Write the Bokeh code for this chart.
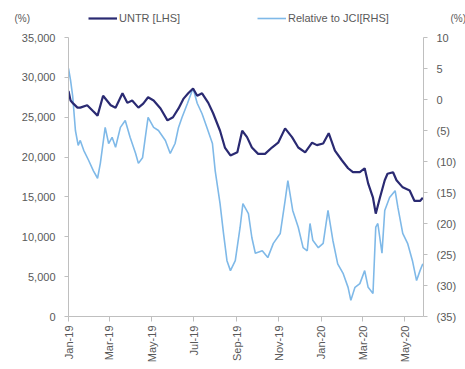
import pandas as pd
from bokeh.plotting import figure
from bokeh.layouts import column
from bokeh.models import (Range1d, LinearAxis, NumeralTickFormatter, FixedTicker,
                          DatetimeTickFormatter, Legend, LegendItem, Label, ColumnDataSource)
from bokeh.embed import file_html
from bokeh.resources import INLINE
from math import pi

# UNTR share price (LHS, IDR)
untr_dates = ["2019-01-01", "2019-01-04", "2019-01-08", "2019-01-14", "2019-01-18", "2019-01-28",
              "2019-02-05", "2019-02-12", "2019-02-20", "2019-03-03", "2019-03-10", "2019-03-20",
              "2019-03-27", "2019-04-03", "2019-04-12", "2019-04-19", "2019-04-26", "2019-05-04",
              "2019-05-14", "2019-05-24", "2019-06-01", "2019-06-09", "2019-06-16", "2019-06-23",
              "2019-06-30", "2019-07-06", "2019-07-13", "2019-07-22", "2019-07-29", "2019-08-08",
              "2019-08-15", "2019-08-23", "2019-09-02", "2019-09-09", "2019-09-16", "2019-09-23",
              "2019-10-02", "2019-10-12", "2019-10-22", "2019-10-31", "2019-11-10", "2019-11-20",
              "2019-11-29", "2019-12-09", "2019-12-19", "2019-12-26", "2020-01-04", "2020-01-12",
              "2020-01-21", "2020-01-31", "2020-02-09", "2020-02-16", "2020-02-26", "2020-03-04",
              "2020-03-09", "2020-03-16", "2020-03-20", "2020-03-26", "2020-04-02", "2020-04-06",
              "2020-04-14", "2020-04-19", "2020-04-28", "2020-05-08", "2020-05-15", "2020-05-23",
              "2020-05-27"]
untr_values = [28300, 27100, 26700, 26200, 26200, 26500,
               25800, 25200, 27700, 26500, 26200, 28000,
               26800, 27100, 26200, 26700, 27500, 27100,
               26100, 24600, 25000, 26100, 27300, 28000,
               28600, 27700, 28000, 26800, 25500, 23300,
               21200, 20200, 20600, 23300, 22500, 21200,
               20400, 20400, 21200, 21800, 23600, 22500,
               21200, 20600, 21800, 21500, 21700, 23000,
               20800, 19600, 18600, 18100, 18100, 18600,
               16700, 14900, 12900, 14900, 17100, 17900,
               18100, 17100, 16200, 15800, 14500, 14500,
               14900]

# Relative performance to JCI (RHS, %)
rel_dates = ["2019-01-01", "2019-01-04", "2019-01-07", "2019-01-11", "2019-01-15", "2019-01-18",
             "2019-01-23", "2019-01-30", "2019-02-06", "2019-02-12", "2019-02-16", "2019-02-23",
             "2019-02-28", "2019-03-05", "2019-03-10", "2019-03-17", "2019-03-24", "2019-03-31",
             "2019-04-08", "2019-04-12", "2019-04-18", "2019-04-22", "2019-04-26", "2019-05-04",
             "2019-05-11", "2019-05-21", "2019-05-28", "2019-06-04", "2019-06-09", "2019-06-14",
             "2019-06-22", "2019-06-30", "2019-07-06", "2019-07-13", "2019-07-20", "2019-07-28",
             "2019-08-01", "2019-08-08", "2019-08-13", "2019-08-18", "2019-08-23", "2019-08-30",
             "2019-09-06", "2019-09-10", "2019-09-18", "2019-09-23", "2019-09-28", "2019-10-08",
             "2019-10-16", "2019-10-24", "2019-11-03", "2019-11-10", "2019-11-14", "2019-11-21",
             "2019-11-29", "2019-12-06", "2019-12-12", "2019-12-16", "2019-12-20", "2019-12-28",
             "2020-01-04", "2020-01-11", "2020-01-18", "2020-01-25", "2020-02-02", "2020-02-09",
             "2020-02-13", "2020-02-19", "2020-02-26", "2020-03-04", "2020-03-09", "2020-03-16",
             "2020-03-20", "2020-03-23", "2020-03-29", "2020-04-02", "2020-04-09", "2020-04-17",
             "2020-04-21", "2020-04-28", "2020-05-05", "2020-05-12", "2020-05-18", "2020-05-23",
             "2020-05-27"]
rel_values = [5.0, 3.1, 0.6, -5.0, -7.4, -6.6,
              -8.2, -9.8, -11.5, -12.7, -10.3, -4.5,
              -7.1, -6.1, -7.7, -4.5, -3.4, -6.1,
              -8.7, -10.3, -9.4, -6.1, -2.9, -4.5,
              -5.0, -6.6, -8.7, -7.1, -4.5, -2.9,
              -0.6, 1.8, -0.6, -2.3, -4.5, -7.1,
              -11.5, -16.8, -21.6, -26.0, -27.6, -26.0,
              -20.6, -16.8, -18.4, -22.3, -24.8, -24.4,
              -25.5, -23.2, -21.6, -16.3, -13.1, -17.9,
              -20.6, -23.9, -24.4, -20.0, -22.7, -23.9,
              -23.2, -17.9, -22.7, -26.5, -28.1, -30.3,
              -32.4, -30.3, -29.7, -27.6, -30.3, -31.3,
              -20.6, -20.0, -24.8, -17.9, -15.8, -14.7,
              -17.4, -21.6, -23.2, -26.0, -29.2, -27.6,
              -26.5]

tick_dates = ["2019-01-01", "2019-03-01", "2019-05-01", "2019-07-01", "2019-09-01",
              "2019-11-01", "2020-01-01", "2020-03-01", "2020-05-01"]
left_ticks = [0, 5000, 10000, 15000, 20000, 25000, 30000, 35000]
right_ticks = [-35, -30, -25, -20, -15, -10, -5, 0, 5, 10]
series_names = ["UNTR [LHS]", "Relative to JCI[RHS]"]
unit_label = "(%)"

GREY = "#595959"
AXIS = "#bfbfbf"
FONT = "Liberation Sans"
C_UNTR = "#2a2a72"
C_REL = "#7fb9e8"

src_u = ColumnDataSource(dict(x=pd.to_datetime(untr_dates), y=untr_values))
src_r = ColumnDataSource(dict(x=pd.to_datetime(rel_dates), y=rel_values))

# ---------- header (legend + unit labels) ----------
HEAD_H = 29
h = figure(width=465, height=HEAD_H, output_backend="svg", toolbar_location=None,
           x_range=Range1d(0, 1), y_range=Range1d(0, 1), min_border=0)
h.frame_align = False
h.axis.visible = False
h.grid.visible = False
h.outline_line_color = None
d_u = h.line(x=[5, 6], y=[5, 6], line_color=C_UNTR, line_width=2.2)
d_r = h.line(x=[5, 6], y=[5, 6], line_color=C_REL, line_width=1.6)
legend = Legend(items=[LegendItem(label=series_names[0], renderers=[d_u]),
                       LegendItem(label=series_names[1], renderers=[d_r])],
                orientation="horizontal", location=(88, 1), glyph_width=29, glyph_height=20,
                label_standoff=2, label_width=130, spacing=8, padding=0, margin=0,
                border_line_color=None, background_fill_alpha=0,
                label_text_font=FONT, label_text_font_size="11px", label_text_color=GREY)
h.add_layout(legend)
for xx in [14, 450]:
    h.add_layout(Label(x=xx, y=HEAD_H - 18, x_units="screen", y_units="screen", text=unit_label,
                       text_font=FONT, text_font_size="10px", text_color=GREY,
                       text_baseline="middle"))

# ---------- main chart ----------
p = figure(width=465, height=369 - HEAD_H, x_axis_type="datetime", output_backend="svg",
           toolbar_location=None,
           x_range=Range1d(pd.Timestamp("2019-01-01"), pd.Timestamp("2020-05-28")),
           y_range=Range1d(0, 35000))
p.min_border_left = 68
p.min_border_right = 42
p.min_border_top = 37 - HEAD_H
p.min_border_bottom = 53
p.outline_line_color = None
p.xgrid.visible = False
p.ygrid.visible = False

p.extra_y_ranges = {"rel": Range1d(-35, 10)}

r_rel = p.line("x", "y", source=src_r, y_range_name="rel", line_color=C_REL, line_width=1.6)
r_untr = p.line("x", "y", source=src_u, line_color=C_UNTR, line_width=2.2)

ax_r = LinearAxis(y_range_name="rel")
p.add_layout(ax_r, "right")

for ax in [p.yaxis[0], ax_r]:
    ax.axis_line_color = AXIS
    ax.major_tick_line_color = AXIS
    ax.major_tick_in = 0
    ax.major_tick_out = 4
    ax.minor_tick_line_color = None
    ax.major_label_text_font = FONT
    ax.major_label_text_font_size = "11px"
    ax.major_label_text_color = GREY
    ax.major_label_standoff = 9

p.yaxis[0].ticker = FixedTicker(ticks=left_ticks)
p.yaxis[0].formatter = NumeralTickFormatter(format="0,0")
ax_r.ticker = FixedTicker(ticks=right_ticks)
ax_r.formatter = NumeralTickFormatter(format="(0)")

xa = p.xaxis[0]
xa.ticker = FixedTicker(ticks=[pd.Timestamp(d).value // 10**6 for d in tick_dates])
fmt = "%b-%y"
xa.formatter = DatetimeTickFormatter(milliseconds=fmt, seconds=fmt, minsec=fmt, minutes=fmt,
                                     hourmin=fmt, hours=fmt, days=fmt, months=fmt, years=fmt)
xa.major_label_orientation = pi / 2
xa.axis_line_color = AXIS
xa.major_tick_line_color = AXIS
xa.major_tick_in = 0
xa.major_tick_out = 5
xa.minor_tick_line_color = None
xa.major_label_text_font = FONT
xa.major_label_text_font_size = "11px"
xa.major_label_text_color = GREY
xa.major_label_standoff = 4

layout = column(h, p, spacing=0)
open("out.html", "w").write(file_html(layout, INLINE))
